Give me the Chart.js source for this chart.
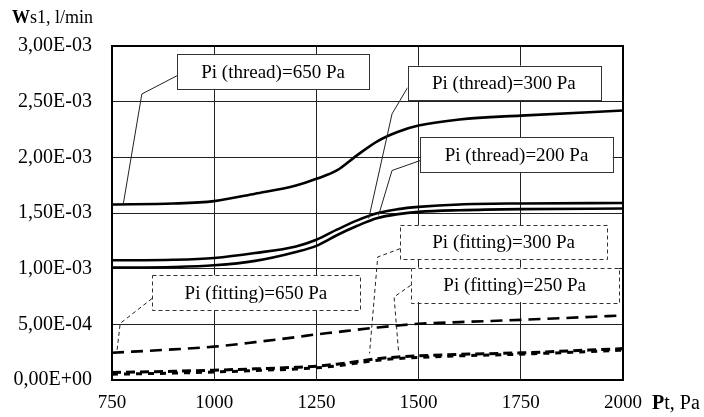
<!DOCTYPE html>
<html>
<head>
<meta charset="utf-8">
<script src="https://cdn.jsdelivr.net/npm/chart.js@4"></script>
<style>
  html, body { margin: 0; padding: 0; background: #fff; }
  canvas { display: block; }
</style>
</head>
<body>
<canvas id="chart" width="704" height="417"></canvas>
<script>
// Pt, Pa
const pt = [750, 900, 1000, 1100, 1200, 1250, 1300, 1350, 1400, 1450, 1500, 1600, 1750, 2000];

// Ws1, l/min
const thread650 = [1.577e-3, 1.585e-3, 1.607e-3, 1.673e-3, 1.747e-3, 1.807e-3, 1.882e-3, 2.02e-3, 2.146e-3, 2.23e-3, 2.285e-3, 2.34e-3, 2.375e-3, 2.42e-3];
const thread300 = [1.075e-3, 1.08e-3, 1.096e-3, 1.14e-3, 1.2e-3, 1.26e-3, 1.35e-3, 1.434e-3, 1.5e-3, 1.535e-3, 1.555e-3, 1.577e-3, 1.586e-3, 1.59e-3];
const thread200 = [1.01e-3, 1.015e-3, 1.03e-3, 1.07e-3, 1.15e-3, 1.205e-3, 1.3e-3, 1.385e-3, 1.455e-3, 1.49e-3, 1.51e-3, 1.525e-3, 1.535e-3, 1.54e-3];
const fitting650 = [0.245e-3, 0.275e-3, 0.3e-3, 0.34e-3, 0.385e-3, 0.41e-3, 0.43e-3, 0.452e-3, 0.472e-3, 0.49e-3, 0.505e-3, 0.52e-3, 0.54e-3, 0.58e-3];
const fitting300 = [0.068e-3, 0.078e-3, 0.088e-3, 0.1e-3, 0.114e-3, 0.124e-3, 0.142e-3, 0.167e-3, 0.192e-3, 0.207e-3, 0.217e-3, 0.23e-3, 0.244e-3, 0.282e-3];
const fitting250 = [0.052e-3, 0.062e-3, 0.072e-3, 0.085e-3, 0.099e-3, 0.109e-3, 0.127e-3, 0.152e-3, 0.177e-3, 0.193e-3, 0.203e-3, 0.217e-3, 0.232e-3, 0.268e-3];

const xTicks = [750, 1000, 1250, 1500, 1750, 2000];
const yTicks = [0, 0.5e-3, 1e-3, 1.5e-3, 2e-3, 2.5e-3, 3e-3];

// callout boxes, in axis units: [x1, y1, x2, y2], leader from box to curve
const callouts = [
  { text: 'Pi (thread)=650 Pa', box: [909, 2.927e-3, 1379, 2.614e-3], leader: [[909, 2.733e-3], [823, 2.569e-3], [778, 1.589e-3]], dashed: false },
  { text: 'Pi (thread)=300 Pa', box: [1473, 2.823e-3, 1944, 2.515e-3], leader: [[1473, 2.626e-3], [1435, 2.39e-3], [1378, 1.45e-3]], dashed: false },
  { text: 'Pi (thread)=200 Pa', box: [1504, 2.18e-3, 1975, 1.867e-3], leader: [[1504, 1.971e-3], [1435, 1.882e-3], [1402, 1.478e-3]], dashed: false },
  { text: 'Pi (fitting)=300 Pa', box: [1455, 1.389e-3, 1961, 1.081e-3], leader: [[1455, 1.18e-3], [1400, 1.105e-3], [1380, 0.239e-3]], dashed: true },
  { text: 'Pi (fitting)=250 Pa', box: [1481, 1.01e-3, 1989, 0.70e-3], leader: [[1481, 0.851e-3], [1440, 0.746e-3], [1451, 0.254e-3]], dashed: true },
  { text: 'Pi (fitting)=650 Pa', box: [848, 0.941e-3, 1356, 0.627e-3], leader: [[848, 0.732e-3], [770, 0.508e-3], [762, 0.254e-3]], dashed: true }
];

const FONT = 'Liberation Serif, "Times New Roman", serif';

function sci(v) {
  if (Math.abs(v) < 1e-12) return '0,00E+00';
  let e = Math.floor(Math.log10(Math.abs(v)) + 1e-9);
  let m = v / Math.pow(10, e);
  return m.toFixed(2).replace('.', ',') + 'E' + (e < 0 ? '-' : '+') + String(Math.abs(e)).padStart(2, '0');
}

function pts(ys) {
  return pt.map((x, i) => ({ x: x, y: ys[i] }));
}

function series(label, ys, dash, width) {
  return {
    label: label,
    data: pts(ys),
    borderColor: '#000',
    borderWidth: width,
    borderDash: dash,
    pointRadius: 0,
    fill: false,
    tension: 0.4,
    cubicInterpolationMode: 'monotone'
  };
}

const calloutPlugin = {
  id: 'callouts',
  afterDatasetsDraw(chart) {
    const ctx = chart.ctx;
    const xs = chart.scales.x, ys = chart.scales.y;
    ctx.save();
    callouts.forEach(c => {
      const x1 = xs.getPixelForValue(c.box[0]), y1 = ys.getPixelForValue(c.box[1]);
      const x2 = xs.getPixelForValue(c.box[2]), y2 = ys.getPixelForValue(c.box[3]);
      // leader
      ctx.beginPath();
      ctx.lineWidth = 1;
      ctx.strokeStyle = '#222';
      ctx.setLineDash(c.dashed ? [4, 3] : []);
      c.leader.forEach((p, i) => {
        const px = xs.getPixelForValue(p[0]), py = ys.getPixelForValue(p[1]);
        if (i === 0) ctx.moveTo(px, py); else ctx.lineTo(px, py);
      });
      ctx.stroke();
      // box
      ctx.fillStyle = '#fff';
      ctx.fillRect(x1, y1, x2 - x1, y2 - y1);
      ctx.strokeStyle = '#333';
      ctx.strokeRect(Math.round(x1) + 0.5, Math.round(y1) + 0.5, Math.round(x2 - x1), Math.round(y2 - y1));
      ctx.setLineDash([]);
      ctx.fillStyle = '#000';
      ctx.font = '19px ' + FONT;
      ctx.textAlign = 'center';
      ctx.textBaseline = 'middle';
      ctx.fillText(c.text, (x1 + x2) / 2, (y1 + y2) / 2 + 1);
    });
    ctx.restore();
  },
  afterDraw(chart) {
    const ctx = chart.ctx;
    const a = chart.chartArea;
    ctx.save();
    // plot frame
    ctx.lineWidth = 2;
    ctx.strokeStyle = '#000';
    ctx.strokeRect(a.left, a.top, a.right - a.left, a.bottom - a.top);
    // axis titles
    ctx.fillStyle = '#000';
    ctx.textBaseline = 'middle';
    ctx.textAlign = 'left';
    let x = 12, y = a.top - 28;
    ctx.font = 'bold 18px ' + FONT;
    ctx.fillText('W', x, y);
    x += ctx.measureText('W').width;
    ctx.font = '18px ' + FONT;
    ctx.fillText('s1, l/min', x, y);

    x = a.right + 29; y = a.bottom + 24;
    ctx.font = 'bold 20px ' + FONT;
    ctx.fillText('P', x, y);
    x += ctx.measureText('P').width;
    ctx.font = '20px ' + FONT;
    ctx.fillText('t, Pa', x, y);
    ctx.restore();
  }
};

new Chart(document.getElementById('chart'), {
  type: 'line',
  data: {
    datasets: [
      series('Pi (thread)=650 Pa', thread650, [], 2.6),
      series('Pi (thread)=300 Pa', thread300, [], 2.6),
      series('Pi (thread)=200 Pa', thread200, [], 2.6),
      series('Pi (fitting)=650 Pa', fitting650, [12, 7], 2.6),
      series('Pi (fitting)=300 Pa', fitting300, [9, 5], 3),
      series('Pi (fitting)=250 Pa', fitting250, [6, 6], 3)
    ]
  },
  options: {
    responsive: false,
    animation: false,
    layout: { padding: { top: 46, right: 81, left: 0, bottom: 0 } },
    plugins: { legend: { display: false }, tooltip: { enabled: false } },
    scales: {
      x: {
        type: 'linear',
        min: 750,
        max: 2000,
        afterBuildTicks: s => { s.ticks = xTicks.map(v => ({ value: v })); },
        afterFit: s => { s.height = 37; },
        ticks: { color: '#000', font: { family: FONT, size: 19 }, padding: 12, maxRotation: 0, callback: v => String(v) },
        grid: { color: '#222', lineWidth: 1, drawTicks: false },
        border: { display: false }
      },
      y: {
        min: 0,
        max: 3e-3,
        afterBuildTicks: s => { s.ticks = yTicks.map(v => ({ value: v })); },
        afterFit: s => { s.width = 112; },
        ticks: { color: '#000', font: { family: FONT, size: 20 }, padding: 20, callback: v => sci(v) },
        grid: { color: '#222', lineWidth: 1, drawTicks: false },
        border: { display: false }
      }
    }
  },
  plugins: [calloutPlugin]
});
</script>
</body>
</html>
